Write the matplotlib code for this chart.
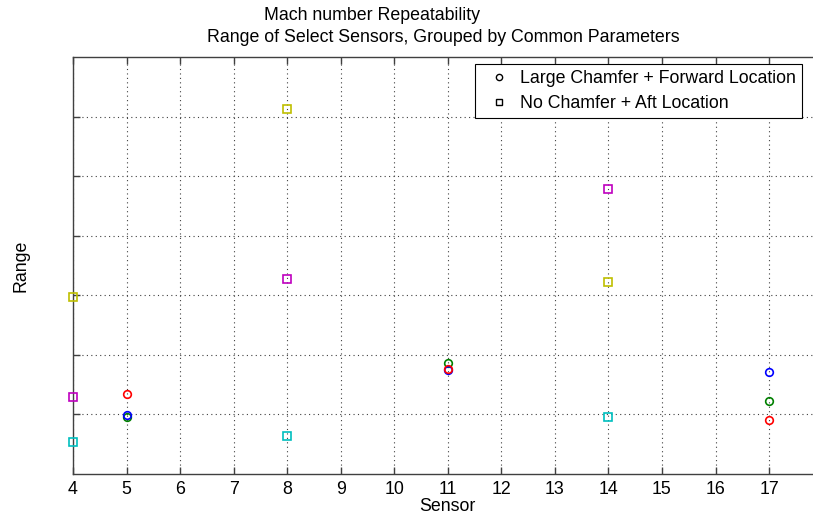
import matplotlib.pyplot as plt
from matplotlib.lines import Line2D

# Sensores con marcador circular (Large Chamfer + Forward Location)
sensores_circ = [5, 11, 17]
azul = [0.99, 1.75, 1.71]
verde = [0.96, 1.86, 1.22]
rojo = [1.34, 1.77, 0.91]

# Sensores con marcador cuadrado (No Chamfer + Aft Location)
sensores_cuad = [4, 8, 14]
cian = [0.54, 0.63, 0.96]
magenta = [1.29, 3.27, 4.78]
amarillo = [2.97, 6.12, 3.23]

xticks = list(range(4, 18))
yticks = [1, 2, 3, 4, 5, 6]

plt.rcParams['font.family'] = ['Liberation Sans', 'DejaVu Sans']
fs = 12.8

fig = plt.figure(figsize=(8.13, 5.21), dpi=100)
ax = fig.add_axes([73 / 813, 47 / 521, 749.6 / 813, 417 / 521])

series_circ = [(verde, (0, 0.5, 0)), (azul, (0, 0, 1)), (rojo, (1, 0, 0))]
series_cuad = [(cian, (0, 0.75, 0.75)), (magenta, (0.75, 0, 0.75)), (amarillo, (0.75, 0.75, 0))]

for valores, color in series_circ:
    ax.plot(sensores_circ, valores, 'o', mfc='none', mec=color, ms=5.5, mew=1.2, clip_on=False, zorder=3)
for valores, color in series_cuad:
    ax.plot(sensores_cuad, valores, 's', mfc='none', mec=color, ms=6, mew=1.2, clip_on=False, zorder=3)

ax.set_xlim(4, 18)
ax.set_ylim(0, 7)
ax.set_xticks(xticks)
ax.set_yticks(yticks)
ax.set_yticklabels([])
ax.tick_params(direction='in', length=5, width=1, colors='#404040', labelcolor='black',
               labelsize=fs, top=True, right=True, pad=5)
ax.grid(True, linestyle=(0, (1, 3)), color='#404040', linewidth=0.8)
for s in ax.spines.values():
    s.set_color('#404040')
    s.set_linewidth(1)

ax.set_xlabel('Sensor', fontsize=fs, labelpad=0)
ax.set_ylabel('Range', fontsize=fs, labelpad=26)

fig.text(372 / 813, 1 - 15 / 521, 'Mach number Repeatability', ha='center', va='center', fontsize=fs)
fig.text(443 / 813, 1 - 38 / 521, 'Range of Select Sensors, Grouped by Common Parameters',
         ha='center', va='center', fontsize=fs)

handles = [
    Line2D([], [], marker='o', ls='none', mfc='none', mec='black', ms=4.5, mew=1.0),
    Line2D([], [], marker='s', ls='none', mfc='none', mec='black', ms=5, mew=1.0),
]
leg = fig.legend(handles, ['Large Chamfer + Forward Location', 'No Chamfer + Aft Location'],
                 loc='upper right', bbox_to_anchor=(802 / 813, 1 - 64 / 521),
                 fontsize=fs, fancybox=False, framealpha=1, edgecolor='black',
                 handlelength=2.0, handletextpad=0.15, borderpad=0.35, labelspacing=0.45,
                 borderaxespad=0)
leg.get_frame().set_linewidth(0.8)

fig.savefig('out.png', dpi=100)
